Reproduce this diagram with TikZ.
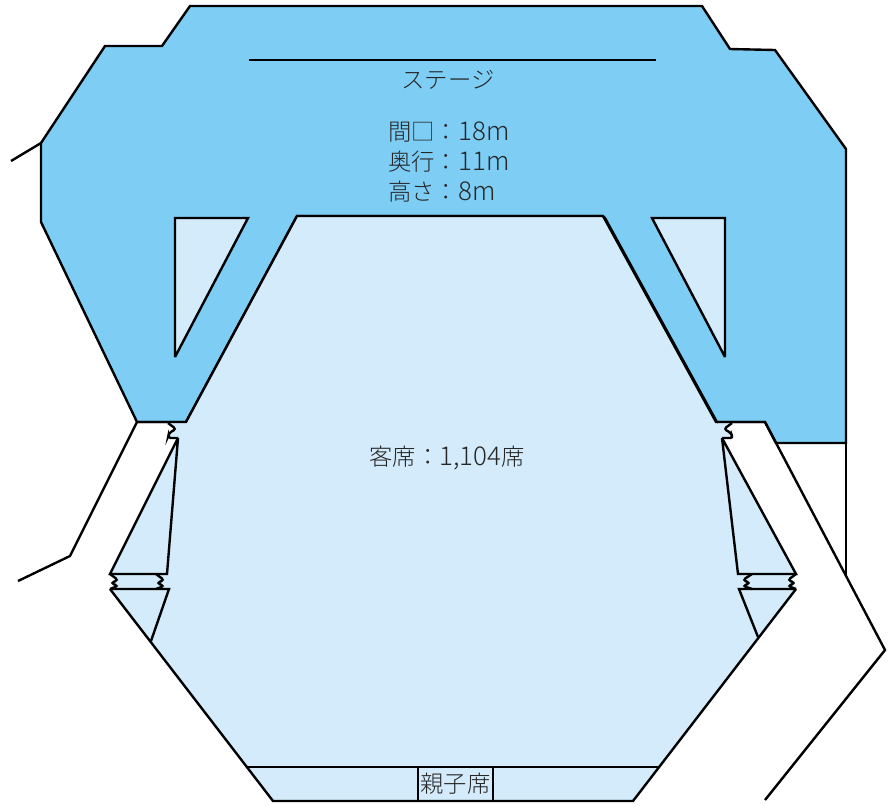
\documentclass[tikz,border=0pt]{standalone}
\usepackage{fontspec}
\setmainfont{Noto Sans CJK JP}[UprightFont=* Light]
\newfontfamily\latinfont{Noto Sans CJK JP}[UprightFont=* Light, Scale=1.11]
\usepackage{tikz}
\definecolor{stageblue}{HTML}{7DCDF5}
\definecolor{hallblue}{HTML}{D3EBFA}
\tikzset{
	wall/.style={draw, line width=1.7pt, line join=miter, miter limit=3},
	notch/.style={draw, line width=1.7pt, rounded corners=2pt},
	seatlabel/.style={font=\fontsize{16.6pt}{21.3pt}\selectfont, inner sep=0pt, text=black!85},
}
\begin{document}
\begin{tikzpicture}[x=.025cm, y=-.025cm]
	\path [use as bounding box] (0,0) rectangle (895,805);
	% stage
	\draw[wall, fill=stageblue] (41,143) -- (105,46) -- (162,46) -- (190,6) -- (702,6) -- (730,49) -- (775,50) -- (846,149) -- (846,443) -- (776,443) -- (765,422) -- (716,422) -- (603,216) -- (297,216) -- (186,422) -- (137,422) -- (41,222) -- cycle;
	\draw[wall, fill=hallblue] (175,218) -- (248,218) -- (175,357) -- cycle;
	\draw[wall, fill=hallblue] (652,218) -- (725,218) -- (725,357) -- cycle;
	\draw[wall] (249,60) -- (656,60);
	% seats
	\fill[hallblue] (186,422) -- (168,423) -- (175,429) -- (168,438) -- (178,438) -- (110,574) -- (117,580) -- (110,589) -- (273,801) -- (633,801) -- (796,589) -- (789,580) -- (796,574) -- (722,438) -- (733,438) -- (725,429) -- (732,423) -- (716,422) -- (603,216) -- (297,216) -- cycle;
	\draw[wall] (603,216) -- (297,216) -- (186,422) -- (137,422);
	\draw[wall] (603,216) -- (716,422) -- (765,422);
	\draw[line width=1pt] (605,217) -- (718,423);
	\draw[wall] (178,438) -- (110,574) -- (167,574) -- cycle;
	\draw[wall] (722,438) -- (796,574) -- (738,574) -- cycle;
	\draw[wall] (110,589) -- (169,589) -- (151,641);
	\draw[wall] (796,589) -- (739,589) -- (758,637);
	\draw[wall] (110,589) -- (273,801) -- (633,801) -- (796,589);
	\draw[wall] (247,767) -- (659,767);
	% notches
	\draw[notch] (168,423) -- (176,429) -- (169,433) -- (168,438) -- (178,438);
	\draw[notch] (732,423) -- (724,429) -- (731,433) -- (733,438) -- (722,438);
	\draw[notch] (110,574) -- (118,580) -- (111,583) -- (118,586) -- (110,589);
	\draw[notch] (156,574) -- (164,580) -- (157,583) -- (164,586) -- (156,589);
	\draw[notch] (796,574) -- (788,580) -- (795,583) -- (788,586) -- (796,589);
	\draw[notch] (752,574) -- (743,580) -- (750,583) -- (743,586) -- (752,589);
	% outside walls
	\draw[wall] (11,161) -- (41,143);
	\draw[wall] (137,422) -- (70,556) -- (18,581);
	\draw[wall] (765,422) -- (885,650) -- (765,800);
	\draw[wall] (846,443) -- (846,576);
	% labels
	\node[seatlabel] (stagename) at (448,80) {ステージ};
	\node[seatlabel, align=left, anchor=north west] (stagedata) at (388,122) {間□：{\latinfont 18m}\\奥行：{\latinfont 11m}\\高さ：{\latinfont 8m}};
	\node[seatlabel] (hallname) at (447,458) {客席：{\latinfont 1,104}席};
	\node[seatlabel, wall, minimum width=75*.025cm, minimum height=34*.025cm] (oyako) at (455.5,784) {親子席};
\end{tikzpicture}
\end{document}
